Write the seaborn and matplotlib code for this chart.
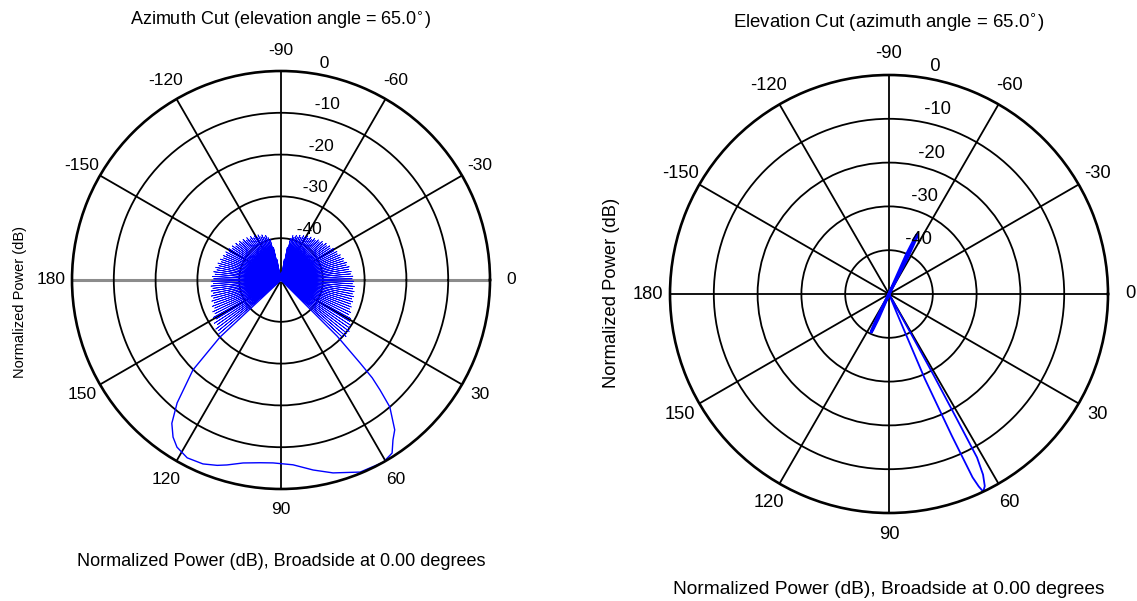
import numpy as np
import matplotlib
matplotlib.use("Agg")
import matplotlib.pyplot as plt
import seaborn as sns

# ---- pattern data (angle in degrees, clockwise from broadside; level in dB) ----
floor_db = -50.0
ring_db = [-40, -30, -20, -10]
theta_ticks = [0, 30, 60, 90, 120, 150, 180, 210, 240, 270, 300, 330]
theta_labels = ["0", "30", "60", "90", "120", "150", "180",
                "-150", "-120", "-90", "-60", "-30"]

# azimuth cut: main beam
az_main_deg = [44.0, 45.0, 46.4, 47.0, 48.0, 49.4, 52.8, 55.0, 57.3, 60.7, 67.6,
               74.9, 80.4, 86.3, 92.5, 96.5, 101.7, 106.3, 109.0, 113.0, 117.8,
               121.9, 124.5, 127.3, 130.2, 134.4, 136.9, 138.0]
az_main_db = [-50.0, -31.0, -22.5, -18.0, -14.6, -10.0, -5.0, -3.3, -0.8, 0.0, -0.3,
              -2.2, -3.9, -5.7, -6.2, -6.0, -5.3, -3.9, -3.1, -2.2, -1.9,
              -2.9, -4.4, -6.9, -11.5, -19.9, -30.0, -50.0]

# azimuth cut: sidelobe peaks
az_side_deg = [139, 141, 143, 145, 147, 149, 151, 153, 155, 157, 159, 161, 163, 165,
               167, 169, 171, 173, 175, 177, 179,
               -179, -177, -175, -173, -171, -169, -167, -165, -163, -161, -159,
               -157, -155, -153, -151, -149, -147, -145, -143, -141, -139, -137,
               -135, -133, -131, -129, -127, -125, -123, -121, -119, -117, -115,
               -113, -111, -109, -107, -105, -103, -101, -99, -97, -95, -93, -91,
               -89, -87, -85, -83, -81, -79, -77, -75, -73, -71, -69, -67, -65,
               -63, -61, -59, -57, -55, -53, -51, -49, -47, -45, -43, -41, -39,
               -37, -35, -33, -31, -29, -27, -25, -23, -21, -19, -17, -15, -13,
               -11, -9, -7, -5, -3, -1,
               1, 3, 5, 7, 9, 11, 13, 15, 17, 19, 21, 23, 25, 27, 29, 31, 33,
               35, 37, 39, 41, 43]
az_side_db = [-30.2, -30.8, -30.5, -31.4, -31.0, -31.9, -31.5, -32.3, -32.0, -32.8,
              -32.4, -33.1, -32.7, -33.3, -32.9, -33.5, -33.1, -33.6, -33.2, -33.8,
              -33.4,
              -33.9, -33.6, -34.2, -33.8, -34.5, -34.1, -34.8, -34.4, -35.1, -34.7,
              -35.3, -35.0, -35.6, -35.2, -35.9, -35.5, -36.2, -35.8, -36.5, -36.1,
              -36.8, -36.4, -37.1, -36.7, -37.4, -37.0, -37.7, -37.3, -38.0, -37.6,
              -38.3, -37.9, -38.6, -38.3, -39.0, -38.7, -39.4, -40.0, -42.0, -45.0,
              -48.0, -50.0, -50.0, -50.0, -50.0, -50.0, -50.0, -50.0, -48.0, -45.0,
              -42.0, -39.8, -39.0, -39.3, -38.7, -39.0, -38.4, -38.7, -38.1, -38.4,
              -37.8, -38.1, -37.5, -37.8, -37.2, -37.5, -36.9, -37.1, -36.5, -36.8,
              -36.1, -36.4, -35.8, -36.0, -35.4, -35.6, -35.0, -35.2, -34.6, -34.8,
              -34.2, -34.4, -33.8, -34.0, -33.4, -33.6, -33.1, -33.3, -32.8, -33.0,
              -32.6, -32.9, -32.4, -32.7, -32.3, -32.6, -32.2, -32.5, -32.1, -32.4,
              -32.0, -32.2, -31.6, -31.8, -31.0, -30.8, -30.2, -30.0, -29.6, -29.8,
              -29.4, -30.0]

# elevation cut: main beam and two minor lobes
el_main_deg = [60.8, 61.0, 61.2, 61.5, 61.7, 62.5, 63.5, 64.5, 65.0, 65.5, 66.1,
               67.1, 67.6, 67.8]
el_main_db = [-50.0, -40.0, -29.0, -18.0, -7.6, -3.5, -1.0, 0.0, -1.5, -4.0, -14.6,
              -29.0, -45.0, -50.0]
el_lobe1_deg = [-67.0, -66.0, -65.0, -64.6, -64.0, -63.0, -62.0]
el_lobe1_db = [-50.0, -40.0, -35.6, -35.0, -35.8, -41.0, -50.0]
el_lobe2_deg = [112.5, 113.5, 114.5, 115.0, 115.5, 116.5, 117.5]
el_lobe2_db = [-50.0, -44.0, -41.0, -40.4, -41.0, -44.0, -50.0]

# ---- style ----
sns.set_theme(style="white")
plt.rcParams["font.family"] = ["Liberation Sans", "DejaVu Sans"]
plt.rcParams["text.color"] = "black"
W, H = 1137, 601
fig = plt.figure(figsize=(W / 100, H / 100), dpi=100)
fig.patch.set_facecolor("white")


def px_box(cx, cy, r):
    return [(cx - r) / W, (H - cy - r) / H, 2 * r / W, 2 * r / H]


def setup_polar(ax, fs, hline_color):
    ax.set_theta_zero_location("E")
    ax.set_theta_direction(-1)
    ax.set_rlim(floor_db, 0)
    ax.set_thetagrids(theta_ticks, labels=[""] * len(theta_ticks))
    ax.set_rgrids(ring_db, labels=[""] * len(ring_db))
    ax.grid(True, color="black", lw=1.3)
    ax.set_facecolor("white")
    ax.spines["polar"].set_color("black")
    ax.spines["polar"].set_linewidth(1.9)
    for i, gl in enumerate(ax.xaxis.get_gridlines()):
        if theta_ticks[i] in (0, 180) and hline_color != "black":
            gl.set_color(hline_color)
            gl.set_linewidth(2.2)
    # angle labels at 1.1 x outer radius
    r_lab = floor_db + 1.1 * (0 - floor_db)
    for t, lab in zip(theta_ticks, theta_labels):
        ax.text(np.deg2rad(t), r_lab, lab, ha="center", va="center",
                fontsize=fs, clip_on=False, color="black")
    # ring labels along the 82 degree ray
    for v in ring_db + [0]:
        ax.text(np.deg2rad(-82), v + 0.5, "  " + str(v), ha="left", va="bottom",
                fontsize=fs, clip_on=False, color="black")


def fan_trace(deg, db):
    th = np.deg2rad(np.repeat(np.asarray(deg, float), 2))
    r = np.empty(th.size)
    r[0::2] = floor_db
    r[1::2] = db
    return np.append(th, th[-1]), np.append(r, floor_db)


def draw(ax, deg, db, lw=1.0):
    th = np.deg2rad(np.asarray(deg, float))
    sns.lineplot(x=th, y=np.asarray(db, float), ax=ax, sort=False,
                 estimator=None, color="#0000ff", lw=lw)


# ---- left: azimuth cut ----
ax1 = fig.add_axes(px_box(281, 280, 209), projection="polar")
setup_polar(ax1, 12.5, "#8c8c8c")
th, r = fan_trace(az_side_deg, az_side_db)
sns.lineplot(x=th, y=r, ax=ax1, sort=False, estimator=None, color="#0000ff", lw=0.55)
draw(ax1, az_main_deg, az_main_db, lw=1.0)
ax1.set_xlabel("")
ax1.set_ylabel("")

# ---- right: elevation cut ----
ax2 = fig.add_axes(px_box(889, 294, 219), projection="polar")
setup_polar(ax2, 13.2, "black")
draw(ax2, el_main_deg, el_main_db, lw=1.3)
draw(ax2, el_lobe1_deg, el_lobe1_db, lw=2.2)
draw(ax2, el_lobe2_deg, el_lobe2_db, lw=2.2)
ax2.set_xlabel("")
ax2.set_ylabel("")


# ---- titles and axis captions ----
def ftext(x, y, s, fs, **kw):
    fig.text(x / W, 1 - y / H, s, ha="center", va="center", fontsize=fs,
             color="black", **kw)


ftext(281, 20, "Azimuth Cut (elevation angle = 65.0$^{\\circ}$)", 13.0)
ftext(281, 562, "Normalized Power (dB), Broadside at 0.00 degrees", 13.0)
ftext(20, 302, "Normalized Power (dB)", 10.5, rotation=90)
ftext(889, 22, "Elevation Cut (azimuth angle = 65.0$^{\\circ}$)", 13.4)
ftext(889, 590, "Normalized Power (dB), Broadside at 0.00 degrees", 13.8)
ftext(612, 293, "Normalized Power (dB)", 13.2, rotation=90)

fig.savefig("out.png", dpi=100, facecolor="white")
